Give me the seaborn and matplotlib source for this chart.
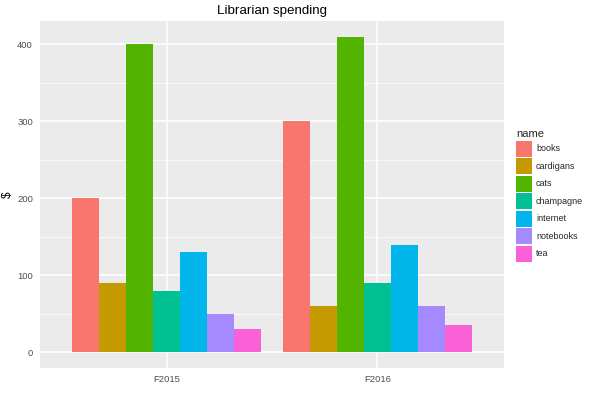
import matplotlib
matplotlib.use("Agg")
import matplotlib.pyplot as plt
import seaborn as sns
import pandas as pd
from matplotlib.ticker import MultipleLocator

years = ["F2015", "F2016"]
names = ["books", "cardigans", "cats", "champagne", "internet", "notebooks", "tea"]
f2015 = [200, 90, 400, 80, 130, 50, 30]
f2016 = [300, 60, 410, 90, 140, 60, 35]
colors = ["#F8766D", "#C49A00", "#53B400", "#00C094", "#00B6EB", "#A58AFF", "#FB61D7"]

df = pd.DataFrame({
    "year": [years[0]] * len(names) + [years[1]] * len(names),
    "name": names + names,
    "value": f2015 + f2016,
})

sns.set_theme(style="darkgrid")
plt.rcParams['font.family'] = ['Liberation Sans', 'DejaVu Sans']

fig = plt.figure(figsize=(6, 4), dpi=100)
ax = fig.add_axes([40/600, 1 - 368/400, (504 - 40)/600, (368 - 21)/400])
ax.set_facecolor("#EBEBEB")

sns.barplot(data=df, x="year", y="value", hue="name", hue_order=names,
            palette=colors, width=0.9, gap=0, saturation=1, ax=ax,
            linewidth=0, errorbar=None)

ax.set_xlim(-0.6, 1.6)
ax.set_ylim(-20.5, 430.5)
ax.yaxis.set_major_locator(MultipleLocator(100))
ax.yaxis.set_minor_locator(MultipleLocator(50))
ax.grid(which="major", color="white", linewidth=1.1)
ax.grid(which="minor", axis="y", color="white", linewidth=0.5)
ax.grid(which="minor", axis="x", visible=False)
ax.set_axisbelow(True)
for s in ax.spines.values():
    s.set_visible(False)

ax.tick_params(axis="both", which="major", length=3, width=0.8, color="#333333",
               labelsize=6.8, labelcolor="#4D4D4D", pad=2, direction="out")
ax.tick_params(axis="both", which="minor", length=0)
ax.set_xlabel("")
ax.set_ylabel("$", fontsize=8.5, color="black")
ax.yaxis.set_label_coords((14 - 40) / 464, 0.5)
ax.set_title("Librarian spending", fontsize=9.6, color="black", pad=5)

handles, labels = ax.get_legend_handles_labels()
ax.legend(handles, labels, title="name", loc="upper left",
          bbox_to_anchor=(516/600, 1 - 129/400), bbox_transform=fig.transFigure,
          frameon=False, fontsize=6.5, title_fontsize=8,
          handlelength=1.77, handleheight=2.345, handletextpad=0.45,
          labelspacing=0.17, borderaxespad=0, borderpad=0, alignment="left")

fig.savefig("out.png", dpi=100, facecolor="white")
